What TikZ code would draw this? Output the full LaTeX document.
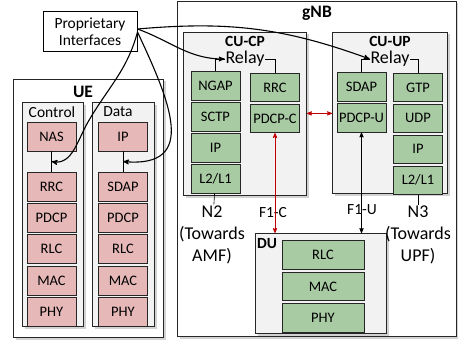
\documentclass[tikz,border=0pt]{standalone}
\usepackage{fontspec}
\setmainfont{Carlito}
\usetikzlibrary{arrows,positioning,shadows,calc}
\definecolor{uepink}{RGB}{230,185,184}
\definecolor{gnbgreen}{RGB}{169,203,164}
\definecolor{boxgray}{RGB}{242,242,242}
\definecolor{f1red}{RGB}{192,0,0}

\begin{document}
\begin{tikzpicture}[x=1pt,y=-1pt,>=stealth',semithick,
                    node distance=1.5pt]
  \tikzstyle{layer}=[rectangle,draw=black!85,line width=0.9pt,minimum width=49pt,minimum height=28.5pt,inner sep=0pt,font=\fontsize{14.5}{14.5}\selectfont]
  \tikzstyle{uelayer}=[layer,fill=uepink,minimum height=29pt]
  \tikzstyle{gnblayer}=[layer,fill=gnbgreen]
  \tikzstyle{frame}=[rectangle,draw=black!85,line width=1pt,fill=white,anchor=north west,inner sep=0pt,
                     drop shadow={opacity=0.35,shadow xshift=2pt,shadow yshift=-2pt}]
  \tikzstyle{column}=[frame,fill=boxgray]
  \tikzstyle{title}=[inner sep=1pt,font=\fontsize{15.5}{15.5}\selectfont\bfseries]
  \tikzstyle{bigtitle}=[font=\fontsize{17.5}{17.5}\selectfont\bfseries]
  \tikzstyle{label}=[font=\fontsize{15.5}{15.5}\selectfont]
  \tikzstyle{relay}=[inner sep=0.5pt,font=\fontsize{18}{18}\selectfont]
  \tikzstyle{iface}=[align=center,inner sep=1pt,font=\fontsize{18}{22}\selectfont]

  \useasboundingbox (0,0) rectangle (458,345);

  % UE side
  \node[frame,minimum width=150pt,minimum height=258pt] (ue) at (13,79) {};
  \node[column,minimum width=61pt,minimum height=224pt] (ctrl) at (22,102) {};
  \node[column,minimum width=62pt,minimum height=224pt] (data) at (92,102) {};
  \node[bigtitle] (uet) at (83,92) {UE};
  \node[label] (ctrlt) at (52,112) {Control};
  \node[label] (datat) at (118,112) {Data};

  \node[uelayer] (nas) at (51.5,136.5) {NAS};
  \node[uelayer] (rrcue) at (51.5,186.5) {RRC};
  \node[uelayer] (pdcpue) [below=of rrcue] {PDCP};
  \node[uelayer] (rlcue) [below=of pdcpue] {RLC};
  \node[uelayer] (macue) [below=of rlcue] {MAC};
  \node[uelayer] (phyue) [below=of macue] {PHY};

  \node[uelayer] (ipue) at (123,136.5) {IP};
  \node[uelayer] (sdapue) at (123,186.5) {SDAP};
  \node[uelayer] (pdcpud) [below=of sdapue] {PDCP};
  \node[uelayer] (rlcud) [below=of pdcpud] {RLC};
  \node[uelayer] (macud) [below=of rlcud] {MAC};
  \node[uelayer] (phyud) [below=of macud] {PHY};

  % gNB side
  \node[frame,minimum width=279pt,minimum height=335pt] (gnb) at (177,1) {};
  \node[column,minimum width=123pt,minimum height=163pt] (cucp) at (183,32) {};
  \node[column,minimum width=115pt,minimum height=161pt] (cuup) at (332,32) {};
  \node[column,minimum width=131pt,minimum height=100pt] (du) at (255,233) {};
  \node[bigtitle] (gnbt) at (317,13) {gNB};
  \node[title] (cucpt) at (245,41) {CU-CP};
  \node[title] (cuupt) at (390,41) {CU-UP};
  \node[title] (dut) at (267,244) {DU};
  \node[relay] (relaycp) at (245,59) {Relay};
  \node[relay] (relayup) at (390,59) {Relay};

  \node[gnblayer] (ngap) at (215.5,86) {NGAP};
  \node[gnblayer] (sctp) [below=of ngap] {SCTP};
  \node[gnblayer] (ipcp) [below=of sctp] {IP};
  \node[gnblayer] (l2cp) [below=of ipcp] {L2/L1};
  \node[gnblayer] (rrccp) at (275,87.5) {RRC};
  \node[gnblayer] (pdcpc) [below=of rrccp] {PDCP-C};

  \node[gnblayer] (sdapup) at (361.5,87) {SDAP};
  \node[gnblayer] (pdcpu) [below=of sdapup] {PDCP-U};
  \node[gnblayer] (gtp) at (418,87.5) {GTP};
  \node[gnblayer] (udp) [below=of gtp] {UDP};
  \node[gnblayer] (ipup) [below=of udp] {IP};
  \node[gnblayer] (l2up) [below=of ipup] {L2/L1};

  \node[gnblayer,minimum width=82pt] (rlcdu) at (323,255) {RLC};
  \node[gnblayer,minimum width=82pt] (macdu) [below=2pt of rlcdu] {MAC};
  \node[gnblayer,minimum width=82pt] (phydu) [below=2pt of macdu] {PHY};

  \node[label] (f1c) at (273,213) {F1-C};
  \node[label] (f1u) at (362,210) {F1-U};
  \node[iface] (n2) at (212,235) {N2\\(Towards\\AMF)};
  \node[iface] (n3) at (418,235) {N3\\(Towards\\UPF)};

  \node[draw=black,line width=1pt,fill=white,minimum width=94pt,minimum height=40pt,align=center,inner sep=1pt,
        font=\fontsize{15.5}{17}\selectfont] (prop) at (90,32) {Proprietary\\Interfaces};

  \coordinate (nasin) at ($(nas.south)!0.5!(rrcue.north)$);
  \coordinate (ipin) at ($(ipue.south)!0.5!(sdapue.north)$);

  % links
  \draw (nas) -- (rrcue);
  \draw (ipue) -- (sdapue);
  \draw (ngap.north) |- (relaycp.west);
  \draw (rrccp.north) |- (relaycp.east);
  \draw (sdapup.north) |- (relayup.west);
  \draw (gtp.north) |- (relayup.east);
  \draw (l2cp) -- (n2);
  \draw (l2up) -- (n3);

  \path[->,line width=1.1pt]
    ([yshift=3pt]prop.east) edge[out=-20,in=180] (relaycp.west)
    ([yshift=3pt]prop.east) edge[out=5,in=160] (relayup.west)
    (prop.east) edge[out=-65,in=-5,looseness=1.5] (ipin);
  \draw[->,line width=1.1pt] (prop.east) to[out=-105,in=60] (88,122) to[out=-120,in=-10] (nasin);

  \draw[<->,f1red,thick] ($(cucp.east |- pdcpc)+(0,-5)$) -- ($(cuup.west |- pdcpc)+(0,-5)$);
  \draw[<->,f1red,thick] (pdcpc.south) -- (pdcpc.south |- du.north);
  \draw[<->,thick] (pdcpu.south) -- (pdcpu.south |- du.north);
\end{tikzpicture}
\end{document}
